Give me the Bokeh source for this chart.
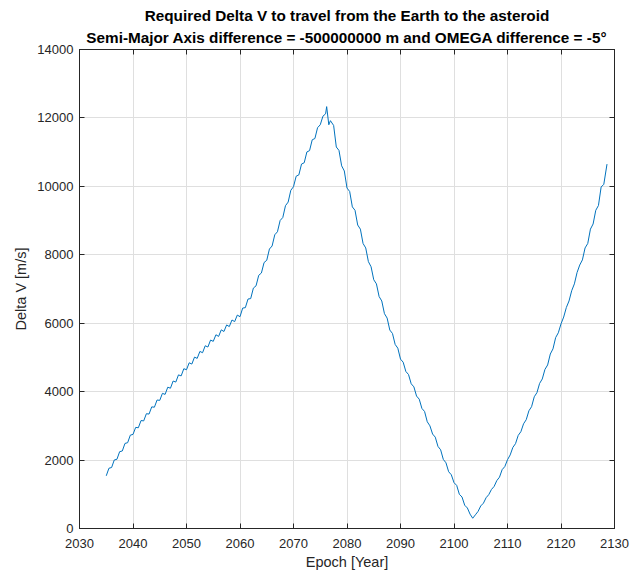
from bokeh.plotting import figure
from bokeh.models import Title, LinearAxis, SingleIntervalTicker, Range1d
from bokeh.embed import file_html
from bokeh.resources import INLINE

title_line1 = "Required Delta V to travel from the Earth to the asteroid"
title_line2 = "Semi-Major Axis difference = -500000000 m and OMEGA difference = -5\u00b0"
x_label = "Epoch [Year]"
y_label = "Delta V [m/s]"

epoch = [
    2035.0, 2035.5, 2036.0, 2036.5, 2037.0, 2037.5, 2038.0, 2038.5, 2039.0, 2039.5,
    2040.0, 2040.5, 2041.0, 2041.5, 2042.0, 2042.5, 2043.0, 2043.5, 2044.0, 2044.5,
    2045.0, 2045.5, 2046.0, 2046.5, 2047.0, 2047.5, 2048.0, 2048.5, 2049.0, 2049.5,
    2050.0, 2050.5, 2051.0, 2051.5, 2052.0, 2052.5, 2053.0, 2053.5, 2054.0, 2054.5,
    2055.0, 2055.5, 2056.0, 2056.5, 2057.0, 2057.5, 2058.0, 2058.5, 2059.0, 2059.5,
    2060.0, 2060.5, 2061.0, 2061.5, 2062.0, 2062.5, 2063.0, 2063.5, 2064.0, 2064.5,
    2065.0, 2065.5, 2066.0, 2066.5, 2067.0, 2067.5, 2068.0, 2068.5, 2069.0, 2069.5,
    2070.0, 2070.5, 2071.0, 2071.5, 2072.0, 2072.5, 2073.0, 2073.5, 2074.0, 2074.5,
    2075.0, 2075.5, 2076.0, 2076.2, 2076.6, 2076.9, 2077.5, 2078.0, 2078.5, 2079.0,
    2079.5, 2080.0, 2080.5, 2081.0, 2081.5, 2082.0, 2082.5, 2083.0, 2083.5, 2084.0,
    2084.5, 2085.0, 2085.5, 2086.0, 2086.5, 2087.0, 2087.5, 2088.0, 2088.5, 2089.0,
    2089.5, 2090.0, 2090.5, 2091.0, 2091.5, 2092.0, 2092.5, 2093.0, 2093.5, 2094.0,
    2094.5, 2095.0, 2095.5, 2096.0, 2096.5, 2097.0, 2097.5, 2098.0, 2098.5, 2099.0,
    2099.5, 2100.0, 2100.5, 2101.0, 2101.5, 2102.0, 2102.5, 2103.0, 2103.5, 2104.0,
    2104.5, 2105.0, 2105.5, 2106.0, 2106.5, 2107.0, 2107.5, 2108.0, 2108.5, 2109.0,
    2109.5, 2110.0, 2110.5, 2111.0, 2111.5, 2112.0, 2112.5, 2113.0, 2113.5, 2114.0,
    2114.5, 2115.0, 2115.5, 2116.0, 2116.5, 2117.0, 2117.5, 2118.0, 2118.5, 2119.0,
    2119.5, 2120.0, 2120.5, 2121.0, 2121.5, 2122.0, 2122.5, 2123.0, 2123.5, 2124.0,
    2124.5, 2125.0, 2125.5, 2126.0, 2126.5, 2127.0, 2127.5, 2128.0, 2128.6,
]

delta_v = [
    1540, 1761, 1782, 2003, 2024, 2245, 2266, 2487, 2508, 2729,
    2750, 2955, 2945, 3155, 3145, 3355, 3345, 3555, 3545, 3755,
    3745, 3950, 3920, 4130, 4100, 4310, 4280, 4490, 4460, 4670,
    4640, 4843, 4806, 5009, 4972, 5175, 5138, 5341, 5304, 5507,
    5470, 5662, 5614, 5806, 5758, 5950, 5902, 6094, 6046, 6238,
    6190, 6442, 6455, 6707, 6720, 7027, 7093, 7400, 7467, 7773,
    7840, 8168, 8257, 8585, 8673, 9002, 9090, 9435, 9540, 9885,
    9990, 10297, 10335, 10652, 10689, 11006, 11044, 11361, 11398, 11715,
    11800, 12050, 12120, 12330, 11800, 11920, 11780, 11150, 11050, 10600,
    10450, 9950, 9850, 9400, 9300, 8870, 8750, 8330, 8200, 7800,
    7650, 7270, 7150, 6780, 6650, 6280, 6150, 5800, 5700, 5380,
    5270, 4950, 4860, 4590, 4500, 4230, 4140, 3870, 3780, 3510,
    3420, 3120, 3000, 2760, 2670, 2400, 2300, 2020, 1920, 1660,
    1570, 1340, 1260, 1000, 920, 680, 600, 420, 300, 400,
    500, 660, 740, 900, 990, 1140, 1230, 1400, 1500, 1720,
    1810, 2010, 2150, 2370, 2480, 2720, 2830, 3060, 3180, 3440,
    3560, 3850, 3970, 4240, 4370, 4650, 4780, 5100, 5250, 5580,
    5720, 5980, 6180, 6460, 6650, 6950, 7150, 7480, 7700, 7850,
    8200, 8330, 8750, 8900, 9300, 9440, 9980, 10060, 10650,
]

x_range = (2030, 2130)
y_range = (0, 14000)

FONT = "Liberation Sans"
DARK = "#262626"

p = figure(width=630, height=573, output_backend="svg", toolbar_location=None,
           title=None, x_range=Range1d(*x_range), y_range=Range1d(*y_range),
           min_border_left=79, min_border_right=16, min_border_top=49, min_border_bottom=45)
p.background_fill_color = "white"
p.border_fill_color = "white"
p.outline_line_color = DARK
p.outline_line_width = 1

p.line(epoch, delta_v, line_color="#0072BD", line_width=1)

xt = SingleIntervalTicker(interval=10, num_minor_ticks=0)
yt = SingleIntervalTicker(interval=2000, num_minor_ticks=0)
p.xaxis.ticker = xt
p.yaxis.ticker = yt
p.xgrid.ticker = xt
p.ygrid.ticker = yt

for ax in (p.xaxis[0], p.yaxis[0]):
    ax.axis_line_color = DARK
    ax.major_tick_line_color = DARK
    ax.major_tick_in = 5
    ax.major_tick_out = 0
    ax.minor_tick_line_color = None
    ax.major_label_text_font = FONT
    ax.major_label_text_font_size = "13px"
    ax.major_label_text_color = DARK
    ax.axis_label_text_font = FONT
    ax.axis_label_text_font_size = "14.5px"
    ax.axis_label_text_font_style = "normal"
    ax.axis_label_text_color = DARK

p.xaxis.axis_label = x_label
p.yaxis.axis_label = y_label
p.xaxis.major_label_standoff = 10
p.xaxis.axis_label_standoff = 3
p.yaxis.major_label_standoff = 6
p.yaxis.axis_label_standoff = 5

for g in (p.xgrid[0], p.ygrid[0]):
    g.grid_line_color = "#dfdfdf"
    g.grid_line_width = 1

top_ax = LinearAxis(ticker=xt)
right_ax = LinearAxis(ticker=yt)
for ax in (top_ax, right_ax):
    ax.axis_line_color = DARK
    ax.major_tick_line_color = DARK
    ax.major_tick_in = 5
    ax.major_tick_out = 0
    ax.minor_tick_line_color = None
    ax.major_label_text_font_size = "1px"
    ax.major_label_text_color = None
    ax.major_label_standoff = 0
p.add_layout(top_ax, "above")
p.add_layout(right_ax, "right")

t2 = Title(text=title_line2, align="center", text_font=FONT, text_font_size="15.3px",
           text_font_style="bold", text_color="black", text_line_height=1.0, standoff=7)
t1 = Title(text=title_line1, align="center", text_font=FONT, text_font_size="15.3px",
           text_font_style="bold", text_color="black", text_line_height=1.0, standoff=0)
p.add_layout(t2, "above")
p.add_layout(t1, "above")

open("out.html", "w").write(file_html(p, INLINE))
